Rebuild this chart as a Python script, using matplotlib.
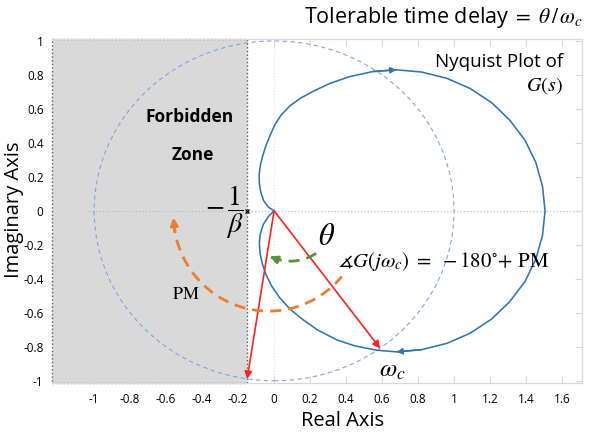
import matplotlib
matplotlib.use("Agg")
import matplotlib.pyplot as plt
from matplotlib.patches import Arc, Ellipse
import numpy as np

plt.rcParams["font.family"] = ["Open Sans", "DejaVu Sans"]
plt.rcParams["mathtext.fontset"] = "stix"

# Nyquist curve of G(s) (clockwise, starts/ends at origin)
nyq_re = [0.0, -0.032, -0.058, -0.074, -0.082, -0.083, -0.076, -0.063, -0.045, -0.022,
          0.006, 0.04, 0.09, 0.15, 0.22, 0.31, 0.42, 0.55, 0.68,
          0.82, 0.96, 1.09, 1.21, 1.31, 1.395, 1.455, 1.492, 1.506,
          1.492, 1.455, 1.395, 1.31, 1.21, 1.09, 0.96, 0.82, 0.68,
          0.57, 0.45, 0.35, 0.24, 0.16, 0.09, 0.03, -0.015, -0.045, -0.066,
          -0.078, -0.082, -0.077, -0.06, -0.033, 0.0]
nyq_im = [0.0, 0.022, 0.06, 0.11, 0.16, 0.215, 0.27, 0.325, 0.385, 0.445,
          0.51, 0.565, 0.62, 0.665, 0.705, 0.75, 0.79, 0.82, 0.83,
          0.817, 0.78, 0.72, 0.636, 0.534, 0.415, 0.284, 0.144, 0.0,
          -0.144, -0.284, -0.415, -0.534, -0.636, -0.72, -0.78, -0.817, -0.83,
          -0.82, -0.795, -0.76, -0.70, -0.64, -0.58, -0.51, -0.44, -0.375, -0.31,
          -0.25, -0.19, -0.135, -0.08, -0.035, 0.0]
arrow_idx = [18, 36]  # direction arrows on the curve

x_ticks = [-1, -0.8, -0.6, -0.4, -0.2, 0, 0.2, 0.4, 0.6, 0.8, 1, 1.2, 1.4, 1.6]
x_tick_labels = ["-1", "-0.8", "-0.6", "-0.4", "-0.2", "0", "0.2", "0.4", "0.6",
                 "0.8", "1", "1.2", "1.4", "1.6"]
y_ticks = [1, 0.8, 0.6, 0.4, 0.2, 0, -0.2, -0.4, -0.6, -0.8, -1]
y_tick_labels = ["1", "0.8", "0.6", "0.4", "0.2", "0", "-0.2", "-0.4", "-0.6",
                 "-0.8", "-1"]

minus_inv_beta = -0.15
wc_point = (0.59, -0.81)
pm_point = (-0.15, -0.99)
unit_radius = 1.0

# PM arc (orange) and theta arc (green): center, radii, angles in degrees
pm_arc = dict(center=(-0.03, -0.02), rx=0.53, ry=0.57, start=182, end=318)
theta_arc = dict(center=(0.09, -0.02), rx=0.26, ry=0.276, start=244, end=306)

BLUE = "#2f75b5"
RED = "#ff2020"
ORANGE = "#ed7d31"
GREEN = "#5a9438"

fig = plt.figure(figsize=(5.9, 4.37), dpi=100)
ax = fig.add_axes([0.088, 0.124, 0.898, 0.787])
ax.set_xlim(-1.235, 1.71)
ax.set_ylim(-1.012, 1.012)

# forbidden zone
ax.axvspan(-1.235, minus_inv_beta, facecolor="#d9d9d9", edgecolor="#595959",
           linestyle=":", linewidth=1.0, zorder=0.5, clip_on=False)

# axis lines through origin
ax.hlines(0, -1.03, 1.71, colors="#bfbfbf", linestyles=":", linewidth=0.9, zorder=1)
ax.vlines(0, -1.012, 1.012, colors="#e4e4e4", linestyles=":", linewidth=0.8, zorder=1)

# unit circle
ax.add_patch(Ellipse((0, 0), 2 * unit_radius, 2 * unit_radius, fill=False,
                     edgecolor="#86a4d8", linestyle=(0, (4, 3)), linewidth=0.8, zorder=2))

# nyquist curve
ax.plot(nyq_re, nyq_im, color=BLUE, linewidth=1.15, zorder=3, solid_joinstyle="round")
for i in arrow_idx:
    ax.annotate("", xy=(nyq_re[i], nyq_im[i]), xytext=(nyq_re[i - 1], nyq_im[i - 1]),
                arrowprops=dict(arrowstyle="-|>", color=BLUE, lw=1.1,
                                mutation_scale=9, shrinkA=0, shrinkB=0), zorder=3)

# red vectors
for tip in (wc_point, pm_point):
    ax.annotate("", xy=tip, xytext=(0, 0),
                arrowprops=dict(arrowstyle="-|>", color=RED, lw=1.2,
                                mutation_scale=11, shrinkA=0, shrinkB=0), zorder=4)


def dashed_arc(a, color):
    cx, cy = a["center"]
    ax.add_patch(Arc((cx, cy), 2 * a["rx"], 2 * a["ry"], theta1=a["start"] + 3,
                     theta2=a["end"], color=color, linewidth=2,
                     linestyle=(0, (4, 2.5)), zorder=5))
    t0, t1 = np.radians(a["start"] + 8), np.radians(a["start"])
    ax.annotate("", xy=(cx + a["rx"] * np.cos(t1), cy + a["ry"] * np.sin(t1)),
                xytext=(cx + a["rx"] * np.cos(t0), cy + a["ry"] * np.sin(t0)),
                arrowprops=dict(arrowstyle="-|>", color=color, lw=2,
                                mutation_scale=11, shrinkA=0, shrinkB=0), zorder=5)


dashed_arc(pm_arc, ORANGE)
dashed_arc(theta_arc, GREEN)

ax.plot([minus_inv_beta], [0], marker="x", color="black", markersize=3.5,
        markeredgewidth=0.9, zorder=6)

# ticks / frame
ax.set_xticks(x_ticks, x_tick_labels)
ax.set_yticks(y_ticks, y_tick_labels)
ax.tick_params(direction="in", length=5, color="#d9d9d9", top=True, right=True,
               left=False, labelsize=8.5, pad=6)
ax.tick_params(axis="x", pad=7)
for side in ("top", "right", "bottom"):
    ax.spines[side].set_color("#d9d9d9")
    ax.spines[side].set_linewidth(0.9)
ax.spines["left"].set_visible(False)

# texts
fig.text(0.988, 0.961, r"Tolerable time delay $=\;\theta\,/\,\omega_c$", ha="right",
         va="center", fontsize=15.5)
ax.text(1.606, 0.876, "Nyquist Plot of", ha="right", va="center", fontsize=13.5)
ax.text(1.606, 0.735, r"$G(s)$", ha="right", va="center", fontsize=14.5)
ax.text(-0.467, 0.553, "Forbidden", ha="center", va="center", fontsize=12.5,
        fontweight="bold")
ax.text(-0.45, 0.33, "Zone", ha="center", va="center", fontsize=12.5, fontweight="bold")
ax.text(-0.172, -0.01, r"$-\,\dfrac{1}{\beta}$", ha="right", va="center", fontsize=20)
ax.text(0.29, -0.153, r"$\theta$", ha="center", va="center", fontsize=22)
ax.text(0.355, -0.30, r"$\measuredangle G(j\omega_c)\ =\ -180^{\circ}\!+\,\mathrm{PM}$",
        ha="left", va="center", fontsize=15)
ax.text(-0.49, -0.49, r"$\mathrm{PM}$", ha="center", va="center", fontsize=13)
ax.text(0.656, -0.935, r"$\omega_c$", ha="center", va="center", fontsize=18)

fig.text(0.581, 0.037, "Real Axis", ha="center", va="center", fontsize=14.5)
fig.text(0.024, 0.519, "Imaginary Axis", ha="center", va="center", fontsize=14.5,
         rotation=90)

fig.savefig("out.png", dpi=100)
